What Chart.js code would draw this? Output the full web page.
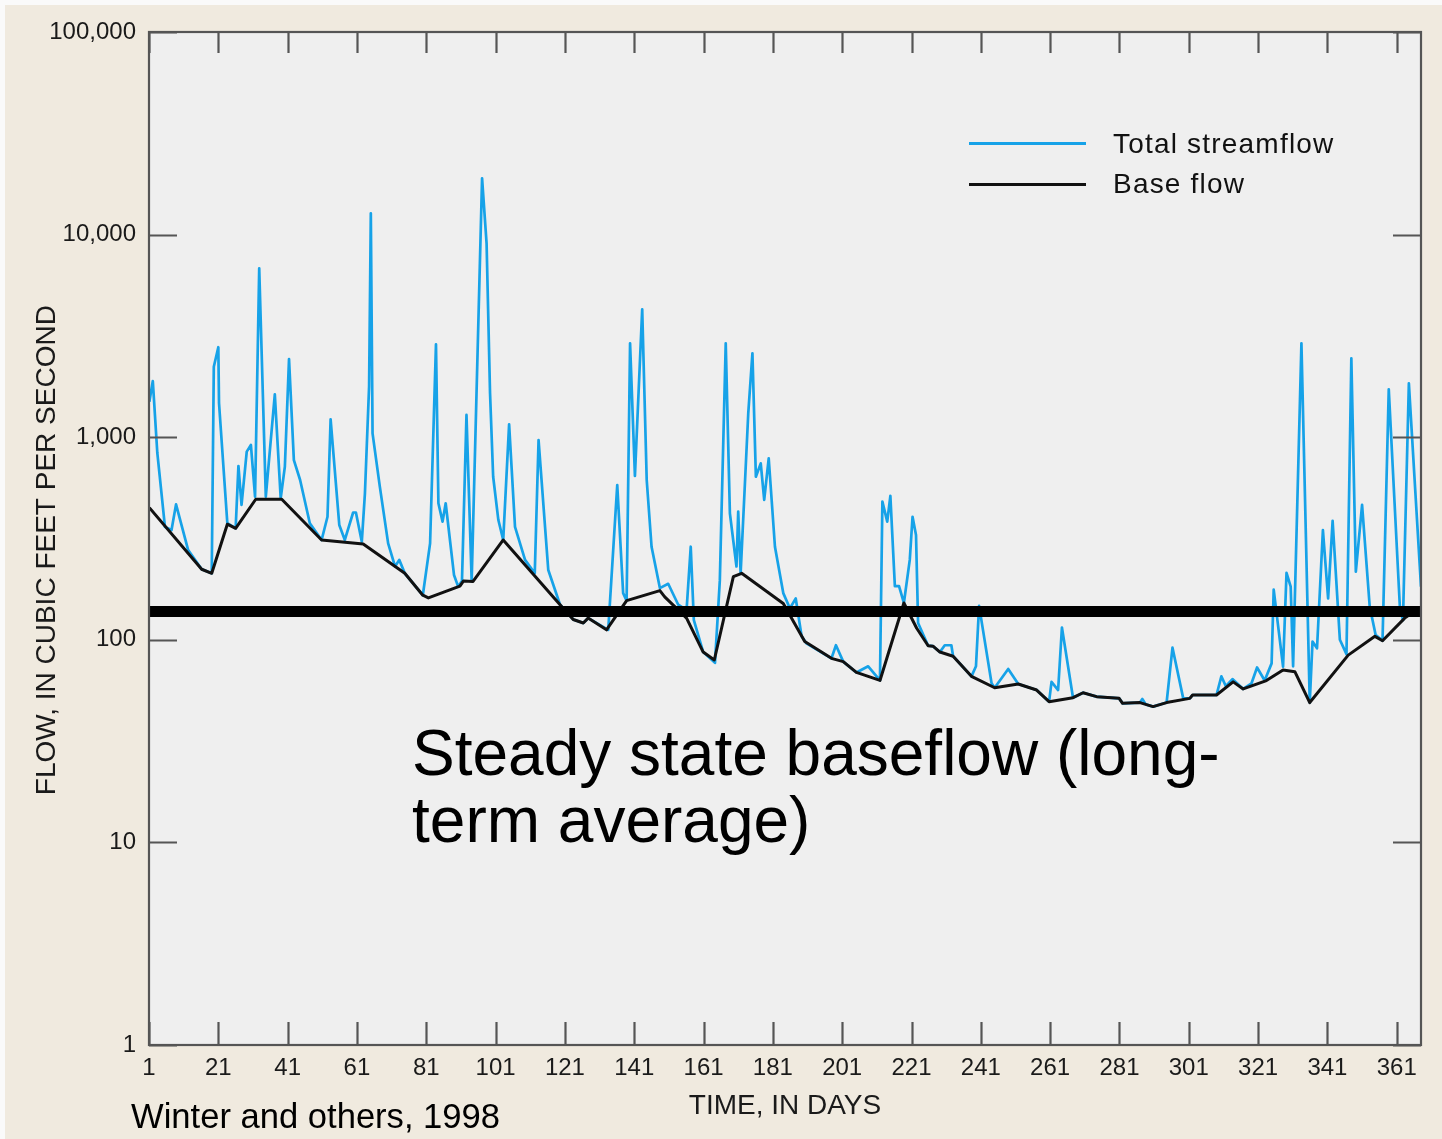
<!DOCTYPE html>
<html lang="en">
<head>
  <meta charset="UTF-8" />
  <title>Total streamflow and base flow</title>
  <script src="https://cdn.jsdelivr.net/npm/chart.js"></script>
  <style>
    body {
      margin: 0;
      background: #fafafa;
      font-family: 'Liberation Sans', Arial, sans-serif;
    }
    .page {
      position: relative;
      width: 1442px;
      height: 1139px;
      overflow: hidden;
    }
    .paper {
      position: absolute;
      left: 5px;
      top: 5px;
      right: 0;
      bottom: 0;
      background: #f0eadf;
    }
    #flowChart {
      position: absolute;
      left: 0;
      top: 0;
    }
    .legend-line {
      position: absolute;
      left: 969px;
      width: 117px;
      height: 3px;
    }
    .legend-text {
      position: absolute;
      left: 1113px;
      font-size: 28px;
      line-height: 28px;
      letter-spacing: 1.2px;
      color: #111;
      white-space: nowrap;
    }
    .note {
      position: absolute;
      left: 412px;
      top: 720px;
      font-size: 64px;
      line-height: 67px;
      color: #000;
      white-space: nowrap;
    }
    .source {
      position: absolute;
      left: 131px;
      top: 1099px;
      font-size: 34.6px;
      line-height: 34px;
      color: #000;
      white-space: nowrap;
    }
  </style>
</head>
<body>
  <div class="page">
    <div class="paper"></div>
    <canvas id="flowChart" width="1442" height="1139"></canvas>

    <!-- legend -->
    <div class="legend-line" style="top:142px; background:#16a2e8;"></div>
    <div class="legend-text" style="top:130px;">Total streamflow</div>
    <div class="legend-line" style="top:183px; background:#111;"></div>
    <div class="legend-text" style="top:170px;">Base flow</div>

    <div class="note">Steady state baseflow (long-<br>term average)</div>
    <div class="source">Winter and others, 1998</div>
  </div>

  <script>
    // Days on the x axis and decades on the y axis
    const dayTicks = [1, 21, 41, 61, 81, 101, 121, 141, 161, 181, 201, 221, 241, 261, 281, 301, 321, 341, 361];
    const flowTicks = [1, 10, 100, 1000, 10000, 100000];

    // Total streamflow, cubic feet per second
    const flowDays = [
      1.1, 2.1, 3.4, 5.6, 7.5, 8.8, 12.3, 16.2, 19.1, 19.7, 21.0, 21.2, 23.6, 26.0, 26.8, 27.7, 29.2, 30.4, 31.6, 32.8,
      34.7, 37.3, 39.0, 40.2, 41.4, 42.8, 44.6, 47.4, 50.8, 52.5, 53.4, 55.9, 57.5, 59.9, 60.7, 62.4, 63.3, 64.5, 65.0, 65.5,
      67.6, 70.0, 72.0, 73.2, 74.8, 80.0, 82.1, 83.8, 84.5, 85.7, 86.6, 89.0, 90.2, 91.3, 92.6, 94.1, 97.1, 98.4, 99.4, 100.3,
      101.8, 103.2, 104.9, 106.6, 109.5, 112.3, 113.4, 116.2, 119.6, 123.4, 126.3, 127.7, 133.5, 136.1, 137.8, 138.8, 139.8, 141.2, 143.3, 144.6,
      146.0, 148.4, 150.8, 153.7, 156.1, 157.3, 158.2, 160.9, 164.3, 165.7, 167.4, 168.6, 170.5, 171.0, 171.7, 173.9, 175.1, 176.1, 177.5, 178.5,
      179.8, 181.6, 184.0, 185.9, 187.6, 189.3, 190.7, 197.9, 199.2, 201.3, 205.1, 208.5, 211.9, 212.6, 214.0, 214.9, 216.2, 217.4, 218.8, 220.5,
      221.3, 222.3, 222.9, 225.8, 227.2, 229.2, 230.6, 232.5, 233.0, 238.3, 239.6, 240.5, 244.1, 245.0, 248.9, 251.8, 257.1, 260.7, 261.4, 263.3,
      264.4, 267.6, 270.5, 274.4, 280.9, 281.9, 286.9, 287.6, 288.6, 290.7, 294.6, 296.3, 299.4, 301.3, 302.1, 309.0, 310.4, 311.7, 313.6, 316.7,
      319.1, 320.7, 322.9, 324.9, 325.5, 328.2, 329.2, 330.4, 331.1, 333.5, 335.9, 336.7, 338.0, 339.7, 341.2, 342.5, 344.6, 346.5, 347.9, 349.2,
      351.0, 353.2, 354.9, 356.9, 358.7, 361.9, 362.8, 364.5, 368.0
    ];
    const flowValues = [
      1497, 1893, 836, 361, 348, 466, 277, 223, 213, 2228, 2780, 1475, 377, 355, 721, 463, 849, 915, 509, 6820,
      509, 1628, 499, 716, 2430, 771, 615, 376, 311, 405, 1225, 369, 311, 425, 425, 305, 528, 1777, 12740, 1045,
      570, 299, 230, 248, 213, 166, 299, 2872, 472, 383, 472, 209, 183, 195, 1288, 195, 18960, 9060, 1648, 638,
      390, 311, 1157, 361, 248, 213, 968, 221, 149, 126, 121, 128, 112, 581, 170, 156, 2905, 644, 4280, 615,
      288, 180, 189, 149, 140, 288, 125, 87, 77, 197, 2905, 421, 230, 429, 213, 1313, 2596, 638, 743, 490,
      787, 288, 170, 143, 160, 104, 96, 81, 94, 78, 69, 74, 63, 481, 383, 513, 184, 184, 152, 248,
      405, 329, 121, 93.5, 93, 87, 94, 94, 83, 66, 74, 147, 61, 58, 71.8, 60.5, 56.5, 49.5, 62, 56.5,
      115, 51.8, 54.8, 52.4, 51.4, 48.6, 49, 51, 48, 46.8, 49, 91.4, 51.4, 51.4, 53.4, 53.4, 66, 59, 64, 57.2,
      61, 73, 63, 76.5, 177, 73.7, 214, 183, 74, 2905, 49, 98, 90.8, 348, 160, 387, 100, 85, 2450, 217,
      463, 146, 106, 99, 1723, 146, 125, 1845, 183
    ];

    // Base flow, cubic feet per second
    const baseDays = [
      1.1, 16.2, 19.1, 23.6, 26.0, 31.8, 39.3, 50.8, 62.8, 74.8, 80.0, 81.6, 90.7, 91.7, 94.5, 103.2, 119.6, 123.4, 126.3, 127.7,
      133.0, 138.8, 148.4, 149.8, 156.1, 160.9, 164.1, 169.6, 172.0, 184.0, 190.2, 197.9, 201.3, 205.1, 211.9, 218.8, 222.5, 225.8, 227.2, 229.2,
      233.0, 238.3, 245.0, 251.8, 257.1, 260.7, 267.6, 270.5, 274.4, 280.9, 281.9, 286.9, 290.7, 294.6, 301.3, 302.1, 309.0, 313.8, 316.7, 323.4,
      328.2, 331.6, 335.9, 347.0, 354.7, 356.9, 363.3, 365.5
    ];
    const baseValues = [
      449, 223, 213, 372, 355, 494, 494, 311, 297, 213, 166, 161, 184, 195, 194, 311, 149, 126, 121, 128,
      112, 156, 175, 163, 128, 87, 79.5, 205, 213, 151, 98, 81, 78, 69, 63, 152, 114, 93.5, 93, 87,
      83, 66, 58, 60.5, 56.5, 49.5, 51.8, 54.8, 52.4, 51.4, 48.6, 49, 46.8, 49, 51.4, 53.4, 53.4, 62, 57.2, 62.9,
      71, 69.6, 49, 84, 104, 99, 128, 136
    ];

    // Steady state baseflow (long-term average)
    const steadyDays = [1, 368];
    const steadyValues = [138, 138];

    const toPoints = (xs, ys) => xs.map((x, i) => ({ x: x, y: ys[i] }));

    const fontFamily = "'Liberation Sans', Arial, sans-serif";
    const frameColor = '#555';

    // plot background, frame and inward tick marks on all four sides
    const framePlugin = {
      id: 'frame',
      beforeDraw(chart) {
        const { ctx, chartArea: a } = chart;
        ctx.save();
        ctx.fillStyle = '#efefef';
        ctx.fillRect(a.left, a.top, a.right - a.left, a.bottom - a.top);
        ctx.restore();
      },
      afterDraw(chart) {
        const { ctx, chartArea: a, scales } = chart;
        ctx.save();
        ctx.strokeStyle = frameColor;
        ctx.lineWidth = 2.2;
        ctx.strokeRect(a.left, a.top, a.right - a.left, a.bottom - a.top);
        ctx.beginPath();
        dayTicks.forEach(d => {
          const px = Math.round(scales.x.getPixelForValue(d)) + 0.5;
          ctx.moveTo(px, a.bottom);
          ctx.lineTo(px, a.bottom - 23);
          ctx.moveTo(px, a.top);
          ctx.lineTo(px, a.top + 21);
        });
        flowTicks.forEach(v => {
          const py = Math.round(scales.y.getPixelForValue(v)) + 0.5;
          ctx.moveTo(a.left, py);
          ctx.lineTo(a.left + 28, py);
          ctx.moveTo(a.right, py);
          ctx.lineTo(a.right - 28, py);
        });
        ctx.stroke();
        ctx.restore();
      }
    };

    new Chart(document.getElementById('flowChart'), {
      type: 'line',
      data: {
        datasets: [
          {
            label: 'Steady state baseflow',
            data: toPoints(steadyDays, steadyValues),
            borderColor: '#000',
            borderWidth: 11,
            borderCapStyle: 'butt',
            order: 0
          },
          {
            label: 'Base flow',
            data: toPoints(baseDays, baseValues),
            borderColor: '#111',
            borderWidth: 3,
            order: 1
          },
          {
            label: 'Total streamflow',
            data: toPoints(flowDays, flowValues),
            borderColor: '#16a2e8',
            borderWidth: 2.7,
            order: 2
          }
        ]
      },
      options: {
        responsive: false,
        animation: false,
        layout: { padding: { top: 32, right: 21, left: 0, bottom: 0 } },
        elements: {
          point: { radius: 0 },
          line: { tension: 0, borderJoinStyle: 'round' }
        },
        plugins: {
          legend: { display: false },
          tooltip: { enabled: false }
        },
        scales: {
          x: {
            type: 'linear',
            min: 1,
            max: 368,
            afterBuildTicks: s => { s.ticks = dayTicks.map(v => ({ value: v })); },
            afterFit: s => { s.height = 94; },
            grid: { drawOnChartArea: false, drawTicks: false },
            border: { display: false },
            ticks: {
              autoSkip: false,
              maxRotation: 0,
              padding: 9,
              color: '#1a1a1a',
              font: { family: fontFamily, size: 24 }
            },
            title: {
              display: true,
              text: 'TIME, IN DAYS',
              color: '#1a1a1a',
              font: { family: fontFamily, size: 28 },
              padding: { top: 0, bottom: 16 }
            }
          },
          y: {
            type: 'logarithmic',
            min: 1,
            max: 100000,
            afterBuildTicks: s => { s.ticks = flowTicks.map(v => ({ value: v })); },
            afterFit: s => { s.width = 149; },
            grid: { drawOnChartArea: false, drawTicks: false },
            border: { display: false },
            ticks: {
              padding: 13,
              color: '#1a1a1a',
              font: { family: fontFamily, size: 24 },
              callback: v => Number(v).toLocaleString('en-US')
            },
            title: {
              display: true,
              // trailing spaces nudge the rotated title down to where the original sits
              text: 'FLOW, IN CUBIC FEET PER SECOND\u00a0\u00a0\u00a0',
              color: '#1a1a1a',
              font: { family: fontFamily, size: 28 },
              padding: { top: 30, bottom: 0 }
            }
          }
        }
      },
      plugins: [framePlugin]
    });
  </script>
</body>
</html>
